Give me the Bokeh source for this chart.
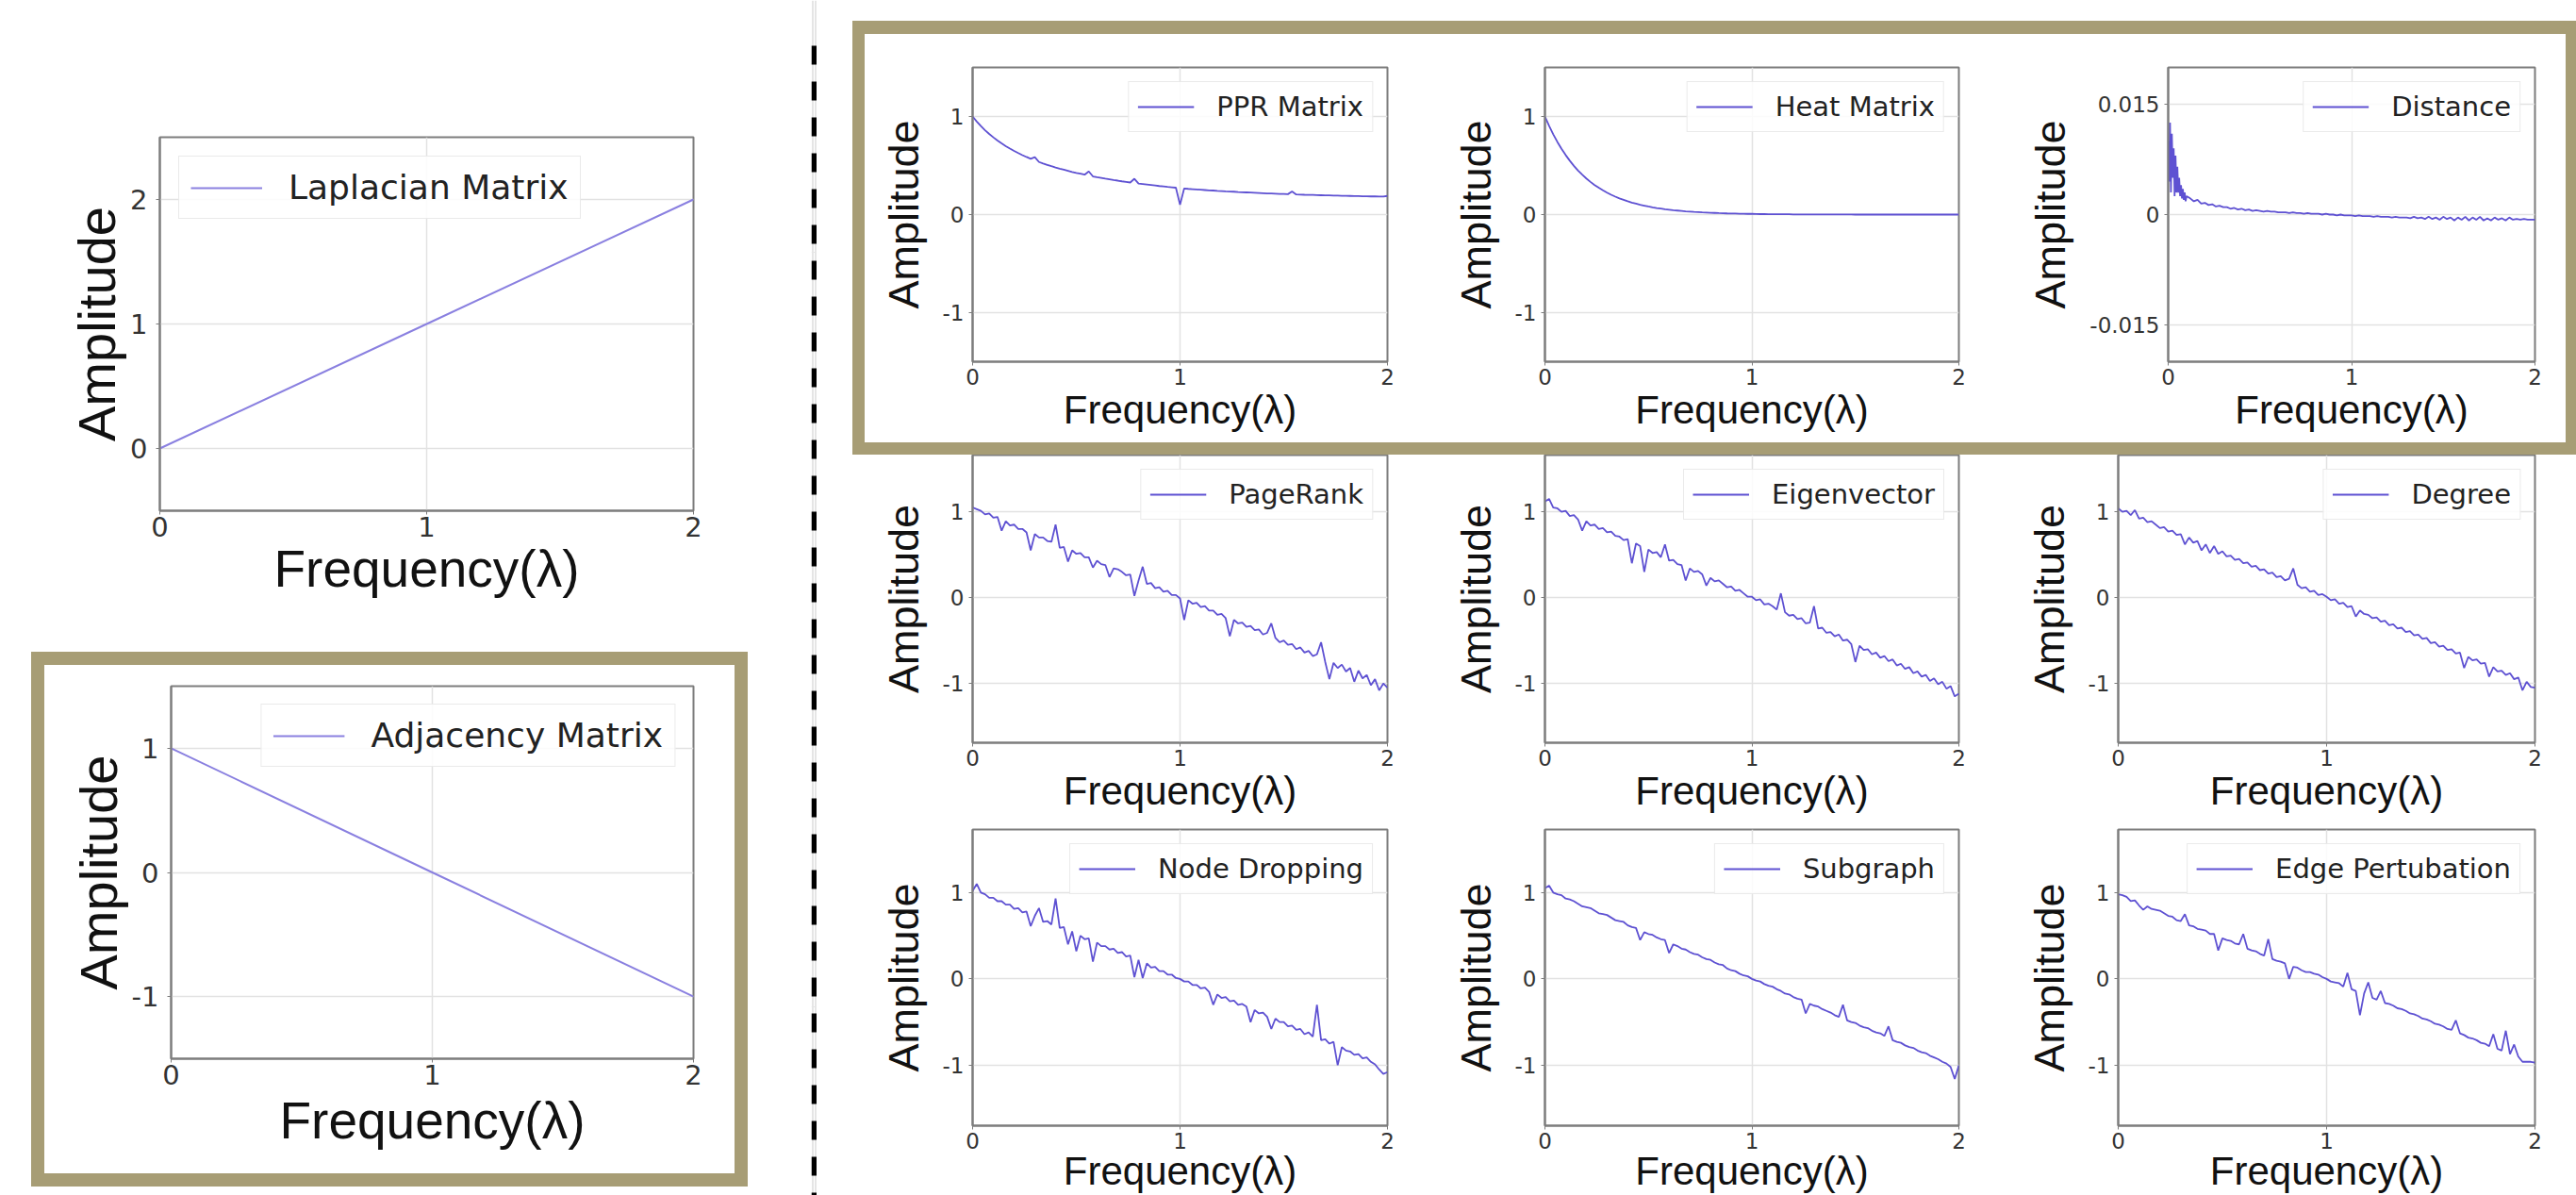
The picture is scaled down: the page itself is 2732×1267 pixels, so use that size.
from bokeh.plotting import figure
from bokeh.layouts import row, column
from bokeh.models import Range1d, FixedTicker, Spacer, CustomJSTickFormatter
from bokeh.embed import file_html
from bokeh.resources import INLINE

# ---------------- data ----------------
SIMPLE_FREQ = [0, 1, 2]
LAPLACIAN = [0, 1, 2]
ADJACENCY = [1, 0, -1]

FREQ = [0.00, 0.02, 0.04, 0.06, 0.08, 0.10, 0.12, 0.14, 0.16, 0.18,
        0.20, 0.22, 0.24, 0.26, 0.28, 0.30, 0.32, 0.34, 0.36, 0.38,
        0.40, 0.42, 0.44, 0.46, 0.48, 0.50, 0.52, 0.54, 0.56, 0.58,
        0.60, 0.62, 0.64, 0.66, 0.68, 0.70, 0.72, 0.74, 0.76, 0.78,
        0.80, 0.82, 0.84, 0.86, 0.88, 0.90, 0.92, 0.94, 0.96, 0.98,
        1.00, 1.02, 1.04, 1.06, 1.08, 1.10, 1.12, 1.14, 1.16, 1.18,
        1.20, 1.22, 1.24, 1.26, 1.28, 1.30, 1.32, 1.34, 1.36, 1.38,
        1.40, 1.42, 1.44, 1.46, 1.48, 1.50, 1.52, 1.54, 1.56, 1.58,
        1.60, 1.62, 1.64, 1.66, 1.68, 1.70, 1.72, 1.74, 1.76, 1.78,
        1.80, 1.82, 1.84, 1.86, 1.88, 1.90, 1.92, 1.94, 1.96, 1.98,
        2.00]

PPR = [1.000, 0.949, 0.902, 0.860, 0.822, 0.787, 0.755, 0.725, 0.698, 0.673,
       0.649, 0.627, 0.606, 0.587, 0.569, 0.585, 0.536, 0.521, 0.507, 0.493,
       0.480, 0.468, 0.457, 0.446, 0.435, 0.425, 0.416, 0.407, 0.440, 0.389,
       0.381, 0.374, 0.366, 0.359, 0.352, 0.346, 0.339, 0.333, 0.327, 0.365,
       0.316, 0.311, 0.306, 0.301, 0.296, 0.291, 0.287, 0.282, 0.278, 0.274,
       0.100, 0.266, 0.262, 0.259, 0.256, 0.253, 0.250, 0.247, 0.245, 0.242,
       0.240, 0.237, 0.235, 0.233, 0.230, 0.228, 0.226, 0.224, 0.222, 0.220,
       0.218, 0.216, 0.215, 0.213, 0.211, 0.210, 0.208, 0.235, 0.205, 0.204,
       0.202, 0.201, 0.200, 0.198, 0.197, 0.196, 0.195, 0.194, 0.193, 0.192,
       0.191, 0.190, 0.189, 0.188, 0.187, 0.186, 0.185, 0.185, 0.184, 0.184,
       0.190]

HEAT = [1.000, 0.905, 0.819, 0.741, 0.670, 0.607, 0.549, 0.497, 0.449, 0.407,
        0.368, 0.333, 0.301, 0.273, 0.247, 0.223, 0.202, 0.183, 0.165, 0.150,
        0.135, 0.122, 0.111, 0.100, 0.091, 0.082, 0.074, 0.067, 0.061, 0.055,
        0.050, 0.045, 0.041, 0.037, 0.033, 0.030, 0.027, 0.025, 0.022, 0.020,
        0.018, 0.017, 0.015, 0.014, 0.012, 0.011, 0.010, 0.009, 0.008, 0.007,
        0.007, 0.006, 0.005, 0.005, 0.004, 0.004, 0.004, 0.003, 0.003, 0.003,
        0.002, 0.002, 0.002, 0.002, 0.002, 0.001, 0.001, 0.001, 0.001, 0.001,
        0.001, 0.001, 0.001, 0.001, 0.001, 0.000, 0.000, 0.000, 0.000, 0.000,
        0.000, 0.000, 0.000, 0.000, 0.000, 0.000, 0.000, 0.000, 0.000, 0.000,
        0.000, 0.000, 0.000, 0.000, 0.000, 0.000, 0.000, 0.000, 0.000, 0.000,
        0.000]

DIST_FREQ = [0.000, 0.005, 0.010, 0.015, 0.020, 0.025, 0.030, 0.035, 0.040, 0.045,
             0.050, 0.055, 0.060, 0.065, 0.070, 0.075, 0.080, 0.085, 0.090, 0.095,
             0.100,
             0.12, 0.14, 0.16, 0.18, 0.20, 0.22, 0.24, 0.26, 0.28, 0.30,
             0.32, 0.34, 0.36, 0.38, 0.40, 0.42, 0.44, 0.46, 0.48, 0.50,
             0.52, 0.54, 0.56, 0.58, 0.60, 0.62, 0.64, 0.66, 0.68, 0.70,
             0.72, 0.74, 0.76, 0.78, 0.80, 0.82, 0.84, 0.86, 0.88, 0.90,
             0.92, 0.94, 0.96, 0.98, 1.00, 1.02, 1.04, 1.06, 1.08, 1.10,
             1.12, 1.14, 1.16, 1.18, 1.20, 1.22, 1.24, 1.26, 1.28, 1.30,
             1.32, 1.34, 1.36, 1.38, 1.40, 1.42, 1.44, 1.46, 1.48, 1.50,
             1.52, 1.54, 1.56, 1.58, 1.60, 1.62, 1.64, 1.66, 1.68, 1.70,
             1.72, 1.74, 1.76, 1.78, 1.80, 1.82, 1.84, 1.86, 1.88, 1.90,
             1.92, 1.94, 1.96, 1.98, 2.00]

DISTANCE = [0.0100, 0.0045, 0.0125, 0.0030, 0.0110, 0.0050, 0.0090, 0.0025, 0.0080, 0.0030,
            0.0065, 0.0030, 0.0050, 0.0025, 0.0040, 0.0022, 0.0035, 0.0020, 0.0030, 0.0018,
            0.0025,
            0.0022, 0.0018, 0.0020, 0.0015, 0.0016, 0.0013, 0.0014, 0.0011, 0.0012, 0.0010,
            0.0010, 0.0008, 0.0009, 0.0007, 0.0008, 0.0006, 0.0007, 0.0005, 0.0006, 0.0005,
            0.0004, 0.0005, 0.0004, 0.0004, 0.0003, 0.0003, 0.0003, 0.0002, 0.0003, 0.0002,
            0.0002, 0.0001, 0.0002, 0.0001, 0.0001, 0.0001, 0.0000, 0.0001, 0.0000, 0.0000,
            -0.0001, 0.0000, -0.0001, -0.0001, -0.0001, -0.0002, -0.0001, -0.0002, -0.0002, -0.0002,
            -0.0003, -0.0002, -0.0003, -0.0003, -0.0003, -0.0004, -0.0003, -0.0004, -0.0004, -0.0004,
            -0.0005, -0.0003, -0.0005, -0.0004, -0.0006, -0.0003, -0.0006, -0.0004, -0.0007, -0.0003,
            -0.0006, -0.0004, -0.0008, -0.0004, -0.0007, -0.0003, -0.0008, -0.0004, -0.0007, -0.0003,
            -0.0008, -0.0005, -0.0008, -0.0004, -0.0007, -0.0005, -0.0008, -0.0004, -0.0007, -0.0006,
            -0.0007, -0.0006, -0.0007, -0.0007, -0.0007]

PAGERANK = [1.05, 1.03, 1.01, 0.97, 0.98, 0.93, 0.94, 0.78, 0.89, 0.84,
            0.85, 0.80, 0.80, 0.76, 0.55, 0.74, 0.70, 0.70, 0.66, 0.65,
            0.85, 0.58, 0.59, 0.42, 0.55, 0.51, 0.52, 0.47, 0.47, 0.35,
            0.43, 0.39, 0.38, 0.24, 0.34, 0.33, 0.30, 0.26, 0.27, 0.02,
            0.20, 0.36, 0.16, 0.17, 0.11, 0.12, 0.07, 0.08, 0.03, 0.03,
            -0.01, -0.26, -0.03, -0.07, -0.06, -0.11, -0.10, -0.15, -0.15, -0.20,
            -0.19, -0.24, -0.45, -0.26, -0.30, -0.29, -0.34, -0.33, -0.38, -0.37,
            -0.43, -0.41, -0.30, -0.47, -0.52, -0.50, -0.55, -0.54, -0.60, -0.58,
            -0.64, -0.62, -0.68, -0.66, -0.52, -0.75, -0.95, -0.76, -0.82, -0.78,
            -0.86, -0.82, -0.98, -0.85, -0.94, -0.90, -1.02, -0.95, -1.08, -1.00,
            -1.05]

EIGENVECTOR = [1.12, 1.15, 1.05, 1.04, 1.00, 1.01, 0.95, 0.96, 0.91, 0.78,
               0.89, 0.84, 0.85, 0.80, 0.81, 0.76, 0.77, 0.72, 0.71, 0.67,
               0.68, 0.40, 0.63, 0.60, 0.30, 0.56, 0.52, 0.53, 0.47, 0.62,
               0.43, 0.44, 0.39, 0.38, 0.20, 0.34, 0.30, 0.31, 0.27, 0.14,
               0.23, 0.19, 0.20, 0.16, 0.12, 0.13, 0.08, 0.09, 0.05, 0.01,
               0.01, -0.03, -0.02, -0.08, -0.07, -0.10, -0.14, 0.05, -0.17, -0.21,
               -0.20, -0.25, -0.24, -0.30, -0.29, -0.10, -0.36, -0.35, -0.41, -0.40,
               -0.45, -0.43, -0.50, -0.49, -0.54, -0.75, -0.56, -0.61, -0.60, -0.66,
               -0.64, -0.70, -0.68, -0.74, -0.72, -0.79, -0.77, -0.83, -0.81, -0.88,
               -0.86, -0.92, -0.90, -0.97, -0.94, -1.01, -0.98, -1.06, -1.03, -1.15,
               -1.12]

DEGREE = [1.04, 1.00, 1.01, 0.96, 1.02, 0.92, 0.93, 0.88, 0.89, 0.85,
          0.81, 0.82, 0.77, 0.78, 0.73, 0.74, 0.62, 0.70, 0.64, 0.66,
          0.55, 0.62, 0.52, 0.60, 0.51, 0.54, 0.48, 0.49, 0.44, 0.45,
          0.40, 0.41, 0.36, 0.37, 0.32, 0.33, 0.28, 0.29, 0.24, 0.25,
          0.20, 0.22, 0.34, 0.15, 0.11, 0.12, 0.07, 0.08, 0.03, 0.04,
          0.01, -0.03, -0.02, -0.07, -0.06, -0.11, -0.10, -0.22, -0.15, -0.19,
          -0.20, -0.24, -0.23, -0.28, -0.27, -0.32, -0.31, -0.36, -0.35, -0.40,
          -0.39, -0.44, -0.43, -0.48, -0.47, -0.53, -0.52, -0.57, -0.56, -0.61,
          -0.60, -0.65, -0.64, -0.82, -0.69, -0.73, -0.72, -0.77, -0.76, -0.92,
          -0.81, -0.86, -0.85, -0.90, -0.88, -0.95, -0.93, -1.08, -0.98, -1.04,
          -1.05]

NODE_DROPPING = [1.02, 1.10, 1.00, 0.98, 0.94, 0.94, 0.90, 0.90, 0.86, 0.86,
                 0.81, 0.82, 0.77, 0.78, 0.61, 0.73, 0.82, 0.66, 0.67, 0.63,
                 0.93, 0.59, 0.60, 0.40, 0.55, 0.32, 0.50, 0.46, 0.47, 0.20,
                 0.42, 0.38, 0.38, 0.34, 0.35, 0.30, 0.31, 0.26, 0.27, 0.02,
                 0.22, 0.01, 0.18, 0.13, 0.14, 0.09, 0.09, 0.05, 0.05, 0.01,
                 0.00, -0.03, -0.03, -0.07, -0.07, -0.11, -0.10, -0.15, -0.30, -0.18,
                 -0.22, -0.21, -0.26, -0.25, -0.30, -0.29, -0.32, -0.50, -0.36, -0.40,
                 -0.39, -0.44, -0.58, -0.46, -0.50, -0.50, -0.55, -0.54, -0.59, -0.58,
                 -0.64, -0.62, -0.67, -0.30, -0.71, -0.70, -0.75, -0.73, -1.00, -0.79,
                 -0.83, -0.84, -0.88, -0.87, -0.92, -0.91, -0.96, -0.99, -1.05, -1.10,
                 -1.08]

SUBGRAPH = [1.05, 1.08, 1.00, 0.98, 0.97, 0.93, 0.92, 0.90, 0.87, 0.84,
            0.83, 0.82, 0.79, 0.76, 0.75, 0.74, 0.71, 0.68, 0.67, 0.66,
            0.62, 0.60, 0.59, 0.45, 0.54, 0.52, 0.51, 0.48, 0.46, 0.45,
            0.30, 0.40, 0.38, 0.35, 0.34, 0.31, 0.29, 0.28, 0.25, 0.23,
            0.22, 0.19, 0.17, 0.16, 0.12, 0.10, 0.09, 0.06, 0.04, 0.03,
            0.00, -0.02, -0.03, -0.06, -0.08, -0.09, -0.12, -0.14, -0.17, -0.18,
            -0.21, -0.23, -0.24, -0.40, -0.29, -0.31, -0.32, -0.35, -0.37, -0.39,
            -0.42, -0.44, -0.30, -0.48, -0.50, -0.51, -0.54, -0.56, -0.57, -0.60,
            -0.62, -0.63, -0.66, -0.55, -0.71, -0.73, -0.74, -0.77, -0.79, -0.80,
            -0.83, -0.85, -0.86, -0.89, -0.91, -0.93, -0.96, -0.98, -1.02, -1.16,
            -1.00]

EDGE_PERTUBATION = [0.98, 0.97, 0.95, 0.90, 0.91, 0.85, 0.80, 0.84, 0.81, 0.80,
                    0.79, 0.76, 0.73, 0.72, 0.68, 0.67, 0.75, 0.62, 0.61, 0.58,
                    0.57, 0.56, 0.52, 0.52, 0.33, 0.47, 0.45, 0.44, 0.41, 0.40,
                    0.52, 0.35, 0.33, 0.32, 0.29, 0.27, 0.46, 0.23, 0.21, 0.20,
                    0.18, 0.00, 0.14, 0.13, 0.10, 0.08, 0.08, 0.06, 0.05, 0.02,
                    0.00, -0.03, -0.04, -0.05, -0.09, 0.07, -0.12, -0.14, -0.42, -0.17,
                    -0.04, -0.22, -0.24, -0.14, -0.28, -0.29, -0.31, -0.34, -0.35, -0.37,
                    -0.40, -0.41, -0.43, -0.46, -0.47, -0.49, -0.52, -0.53, -0.55, -0.58,
                    -0.59, -0.48, -0.63, -0.65, -0.68, -0.69, -0.71, -0.74, -0.75, -0.78,
                    -0.64, -0.81, -0.83, -0.60, -0.87, -0.76, -0.90, -0.96, -0.96, -0.96,
                    -0.97]

X_TICKS = [0, 1, 2]
Y_TICKS_LAP = [0, 1, 2]
Y_TICKS_UNIT = [-1, 0, 1]
Y_TICKS_DIST = [-0.015, 0, 0.015]

# ---------------- styling ----------------
OLIVE = "#a79d75"
LINE = "#5e51d2"
LIGHT_LINE = "#8a80e0"
FMT = "return tick.toString();"


def band(w, h):
    return Spacer(width=w, height=h, styles={"background-color": OLIVE})


def panel(w, h, bl, br, bt, bb, xs, ys, label, yr, yticks, big=False,
          x_standoff=0, loc="top_right", lmargin=15, color=LINE, lw=1.8):
    p = figure(width=w, height=h, output_backend="svg", toolbar_location=None,
               x_range=Range1d(0, 2), y_range=Range1d(*yr),
               min_border_left=bl, min_border_right=br,
               min_border_top=bt, min_border_bottom=bb)
    p.background_fill_color = "white"
    p.border_fill_color = "white"
    p.outline_line_color = "#7d7d7d"
    p.outline_line_width = 2
    n = min(len(xs), len(ys))
    p.line(xs[:n], ys[:n], line_color=color, line_width=lw, legend_label=label)

    tick_fs = "29px" if big else "23px"
    amp_fs = "56px" if big else "45px"
    freq_fs = "55px" if big else "42px"

    xa = p.xaxis[0]
    ya = p.yaxis[0]
    xa.ticker = FixedTicker(ticks=X_TICKS)
    ya.ticker = FixedTicker(ticks=yticks)
    p.xgrid.ticker = FixedTicker(ticks=X_TICKS)
    p.ygrid.ticker = FixedTicker(ticks=yticks)
    p.grid.grid_line_color = "#e2e2e2"
    p.grid.grid_line_width = 1.5
    for ax in (xa, ya):
        ax.formatter = CustomJSTickFormatter(code=FMT)
        ax.major_label_text_font = "DejaVu Sans"
        ax.major_label_text_font_size = tick_fs
        ax.major_label_text_color = "#333333"
        ax.axis_label_text_font = "Liberation Sans"
        ax.axis_label_text_font_style = "normal"
        ax.axis_label_text_color = "#111111"
        ax.major_tick_out = 4
        ax.major_tick_in = 0
        ax.minor_tick_out = 0
        ax.minor_tick_in = 0
        ax.axis_line_color = "#7d7d7d"
        ax.axis_line_width = 2
        ax.major_tick_line_color = "#7d7d7d"
    ya.axis_label = "Amplitude"
    xa.axis_label = "Frequency(λ)"
    ya.axis_label_text_font_size = amp_fs
    xa.axis_label_text_font_size = freq_fs
    if big:
        ya.major_label_standoff = 9
        xa.major_label_standoff = 2
        ya.axis_label_standoff = 1
    else:
        ya.major_label_standoff = 5
        xa.major_label_standoff = 3
        ya.axis_label_standoff = 13
    xa.axis_label_standoff = x_standoff

    lg = p.legend[0]
    lg.location = loc
    lg.margin = lmargin
    lg.label_text_font = "DejaVu Sans"
    lg.label_text_color = "#222222"
    lg.border_line_color = "#d6d6d6"
    lg.border_line_width = 1.5
    lg.background_fill_alpha = 0.85
    lg.spacing = 0
    if big:
        lg.label_text_font_size = "36px"
        lg.padding = 12
        lg.glyph_width = 76
        lg.label_standoff = 28
    else:
        lg.label_text_font_size = "29px"
        lg.padding = 9
        lg.glyph_width = 60
        lg.label_standoff = 24
    return p


# ---------------- left column (0..860) ----------------
lap = panel(860, 684, 169, 125, 145, 143, SIMPLE_FREQ, LAPLACIAN, "Laplacian Matrix",
            (-0.5, 2.5), Y_TICKS_LAP, big=True, loc="top_left", lmargin=20,
            color=LIGHT_LINE, lw=2)
adj = panel(732, 539, 134, 44, 22, 122, SIMPLE_FREQ, ADJACENCY, "Adjacency Matrix",
            (-1.5, 1.5), Y_TICKS_UNIT, big=True, x_standoff=4, loc="top_right",
            lmargin=19, color=LIGHT_LINE, lw=2)
adj_block = column(band(760, 14),
                   row(band(14, 539), adj, band(14, 539)),
                   band(760, 14))
left_col = column(lap,
                  Spacer(width=860, height=7),
                  row(Spacer(width=33, height=567), adj_block, Spacer(width=67, height=567)),
                  Spacer(width=860, height=9))

# ---------------- dashed divider (860..866) ----------------
dash = figure(width=6, height=1267, output_backend="svg", toolbar_location=None,
              x_range=Range1d(0, 1), y_range=Range1d(0, 1267),
              x_axis_location=None, y_axis_location=None, min_border=0)
dash.outline_line_color = None
dash.segment(x0=[0.5], y0=[1219], x1=[0.5], y1=[0], line_color="black",
             line_width=6, line_dash="20 18")

# ---------------- right grid (866..2732) ----------------
R1 = (-1.5, 1.5)
R2 = (-1.69, 1.66)
R3 = (-1.7, 1.73)

ppr = panel(603, 433, 114, 49, 35, 86, FREQ, PPR, "PPR Matrix", R1, Y_TICKS_UNIT)
heat = panel(620, 433, 118, 63, 35, 86, FREQ, HEAT, "Heat Matrix", R1, Y_TICKS_UNIT)
dist = panel(581, 433, 159, 33, 35, 86, DIST_FREQ, DISTANCE, "Distance",
             (-0.02, 0.02), Y_TICKS_DIST)
top_block = column(band(1828, 14),
                   row(band(13, 433), ppr, heat, dist, band(11, 433)),
                   band(1828, 13))

pr = panel(654, 386, 165, 49, 0, 81, FREQ, PAGERANK, "PageRank", R2, Y_TICKS_UNIT)
ev = panel(620, 386, 118, 63, 0, 81, FREQ, EIGENVECTOR, "Eigenvector", R2, Y_TICKS_UNIT)
dg = panel(592, 386, 106, 44, 0, 81, FREQ, DEGREE, "Degree", R2, Y_TICKS_UNIT)

nd = panel(654, 399, 165, 49, 11, 74, FREQ, NODE_DROPPING, "Node Dropping", R3,
           Y_TICKS_UNIT, x_standoff=-3)
sg = panel(620, 399, 118, 63, 11, 74, FREQ, SUBGRAPH, "Subgraph", R3,
           Y_TICKS_UNIT, x_standoff=-3)
ep = panel(592, 399, 106, 44, 11, 74, FREQ, EDGE_PERTUBATION, "Edge Pertubation", R3,
           Y_TICKS_UNIT, x_standoff=-3)

right_col = column(Spacer(width=1866, height=22),
                   row(Spacer(width=38, height=460), top_block),
                   row(pr, ev, dg),
                   row(nd, sg, ep))

root = row(left_col, dash, right_col)

with open("out.html", "w") as f:
    f.write(file_html(root, INLINE, "Spectral response"))
